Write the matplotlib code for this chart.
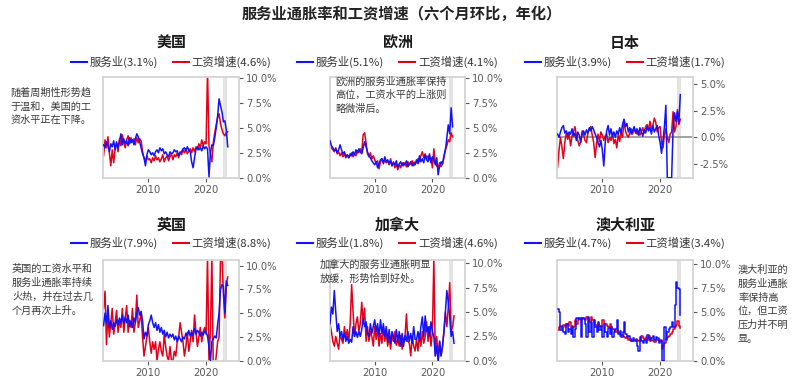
import numpy as np
import matplotlib
matplotlib.use('Agg')
import matplotlib.pyplot as plt

plt.rcParams['font.family'] = ['Noto Sans CJK SC', 'DejaVu Sans']
plt.rcParams['axes.unicode_minus'] = False

# ---------------- data (quarterly, first point 2002.25) ----------------
START = 2002.25
STEP = 0.25

us_services = [3.3, 3.0, 3.6, 3.2,  2.6, 3.4, 3.1, 3.7,  2.8, 3.5, 3.0, 3.6,
               4.4, 3.3, 3.9, 3.4,  3.7, 3.2, 4.0, 3.5,  3.8, 3.3, 3.9, 4.4,
               4.1, 3.6, 3.0, 2.4,  2.0, 1.2, 2.3, 2.8,  2.6, 2.3, 2.5, 2.2,
               2.6, 2.8, 2.5, 3.0,  2.7, 2.9, 2.4, 2.6,  2.3, 2.1, 2.6, 2.4,
               2.5, 2.8, 2.6, 2.7,  2.2, 2.5, 2.6, 2.9,  3.0, 2.7, 3.1, 2.8,
               2.6, 1.6, 1.0, 2.0,  2.9, 3.1, 2.8, 3.0,  2.7, 3.2, 2.9, 3.1,
               2.9, 0.1, 2.5, 3.3,  3.2, 4.0, 5.0, 6.2,  7.9, 7.2, 6.6, 5.6,
               5.7, 4.8, 3.1]
us_wages = [2.2, 3.8, 3.0, 4.1,  2.5, 1.2, 2.8, 1.5,  2.9, 3.6, 2.6, 3.9,
            3.2, 4.3, 3.5, 3.0,  3.8, 4.2, 3.4, 4.0,  3.6, 3.9, 3.3, 4.0,
            3.5, 3.9, 3.7, 2.6,  2.0, 1.6, 2.2, 1.8,  1.9, 1.5, 2.0, 1.7,
            2.2, 1.8, 2.0, 1.6,  1.9, 2.3, 1.6, 2.0,  2.2, 1.7, 2.1, 2.4,
            1.8, 2.3, 2.1, 2.5,  2.0, 2.6, 2.3, 2.8,  2.5, 2.9, 2.4, 2.7,
            2.9, 2.5, 3.0, 2.6,  3.1, 2.8, 3.4, 3.0,  3.8, 3.2, 3.6, 3.4,
            10.8, 3.2, 2.4, 1.6,  3.5, 4.5, 5.3, 6.0,  6.4, 5.4, 4.8, 4.4,
            4.2, 4.5, 4.6]

eu_services = [3.7, 3.2, 3.0, 2.7,  2.9, 2.5, 2.8, 3.3,  2.8, 2.4, 2.6, 2.1,
               2.3, 2.0, 2.4, 2.2,  2.6, 2.3, 2.8, 2.5,  2.9, 2.6, 2.4, 3.0,
               3.6, 3.1, 2.6, 2.2,  2.0, 1.7, 1.5, 1.3,  1.6, 1.0, 1.4, 1.8,
               1.9, 1.5, 2.1, 1.6,  1.8, 1.4, 1.7, 1.2,  1.5, 1.3, 1.7, 1.0,
               1.4, 1.6, 1.2, 1.5,  1.3, 1.7, 1.1, 1.4,  1.6, 1.2, 1.5, 1.3,
               1.8, 1.4, 2.2, 1.6,  1.9, 1.5, 2.3, 1.8,  1.6, 2.4, 1.5, 2.1,
               1.8, 1.3, 2.0, 0.3,  1.2, 1.6, 1.4, 2.2,  2.8, 4.0, 5.3, 4.4,
               7.0, 5.1]
eu_wages = [3.2, 3.0, 2.8, 2.6,  3.0, 2.4, 2.6, 2.2,  2.5, 2.1, 2.4, 2.0,
            2.3, 2.0, 2.2, 2.5,  2.1, 2.4, 2.2, 2.7,  2.5, 2.9, 2.6, 4.3,
            4.5, 3.5, 2.4, 2.1,  2.5, 1.9, 2.2, 1.8,  1.5, 1.7, 0.9, 1.6,
            1.9, 1.4, 1.8, 1.5,  1.7, 1.3, 1.9, 1.2,  1.6, 1.0, 1.4, 0.8,
            1.3, 1.0, 1.5, 1.2,  1.5, 1.1, 1.6, 1.3,  1.4, 1.7, 1.2, 1.6,
            1.5, 1.9, 1.6, 2.2,  2.6, 2.0, 2.4, 1.9,  2.2, 1.8, 2.0, 1.0,
            2.9, 1.5, 1.2, 1.0,  1.5, 1.1, 1.4, 2.0,  2.8, 3.2, 3.8, 3.6,
            4.5, 4.1]

jp_services = [0.3, 0.0, 0.5, 0.9,  1.1, 0.4, 0.6, 0.2,  0.5, 0.3, 0.8, 0.1,
               0.4, -0.3, 0.5, 0.2,  -0.5, 0.3, 0.6, 0.2,  0.7, 0.4, 0.9, 0.6,
               1.0, 0.7, 0.3, 0.0,  -0.5, -0.9, -0.3, -1.2,  -2.7, -0.5, 0.6, 1.1,
               0.2, 0.8, 0.1, 0.5,  0.0, 0.6, 0.3, 0.9,  0.4, 1.2, 1.7, 1.0,
               1.3, 0.5, 0.9, 0.3,  0.6, 1.0, 0.4, 0.8,  0.2, 0.9, 0.5, 0.1,
               0.7, 0.4, 1.0, 0.6,  0.9, 0.3, 1.1, 0.5,  0.8, 1.1, 0.2, -0.5,
               -1.5, -0.3, 1.0, 3.0,  -3.8, -3.8, -3.8, -3.8,  0.8, 2.3, 1.5, 2.4,
               1.3, 4.0]
jp_wages = [-2.8, -1.2, 0.0, -0.9,  -2.0, -0.5, 0.4, -0.2,  0.3, -0.8, 0.1, 0.5,
            1.0, 0.2, -0.3, -0.8,  -0.4, 0.6, 0.2, -0.3,  -0.5, 0.4, 0.8, 1.0,
            0.2, -0.5, -1.9, -0.6,  0.3, -0.4, 0.5, 0.2,  -0.3, 0.1, 0.3, -0.5,
            0.0, -0.3, 0.4, -0.6,  -0.2, -1.0, 0.3, -0.4,  0.5, 0.0, 1.6, 0.6,
            0.2, 0.0, 0.4, 0.8,  0.3, 0.9, 0.5, 0.3,  0.6, 0.2, 0.5, 0.9,
            0.4, 1.0, 1.2, 0.7,  1.5, 0.8, 1.1, 1.8,  1.4, 0.5, 0.9, 1.0,
            -0.5, -1.0, 0.2, 0.8,  0.0, -0.5, 0.3, 0.5,  2.4, 0.5, 1.0, 2.6,
            1.2, 1.7]

uk_services = [3.7, 5.0, 4.0, 5.8,  3.5, 4.2, 3.3, 4.0,  3.6, 4.3, 3.8, 4.5,
               4.0, 4.8, 3.9, 4.6,  4.0, 4.8, 3.6, 4.2,  3.5, 4.5, 4.0, 5.0,
               5.6, 4.8, 5.2, 4.2,  2.3, 3.0, 2.6, 3.8,  4.2, 4.8, 4.0, 3.5,
               4.0, 3.2, 3.8, 3.0,  3.5, 2.8, 3.2, 2.5,  3.0, 2.4, 2.8, 2.5,
               2.8, 2.2, 2.6, 2.0,  2.6, 2.3, 2.0, 2.5,  2.3, 2.9, 2.6, 3.2,
               2.6, 3.0, 2.7, 3.4,  2.8, 3.2, 3.0, 2.6,  3.0, 2.7, 3.1, 3.0,
               2.6, 1.5, 0.0, 2.0,  2.3, 2.6, 2.4, 3.8,  5.0, 7.5, 8.0, 7.8,
               5.0, 8.4, 7.9]
uk_wages = [5.5, 7.3, 1.7, 5.0,  2.5, 4.0, 5.5, 2.8,  4.0, 5.3, 3.0, 4.2,
            3.5, 5.5, 3.0, 4.5,  5.8, 3.0, 4.2, 3.5,  5.5, 3.0, 4.0, 6.9,
            3.5, 4.2, 5.0, 2.5,  0.5, 1.5, 2.5, 3.5,  2.0, 0.8, 2.0, 1.2,
            2.0, 0.0, 1.2, 2.0,  1.0, 0.5, 2.8, 1.5,  0.5, 0.0, 1.5, 0.0,
            0.0, 1.0, 0.5, 2.0,  2.5, 4.0, 3.0, 2.0,  0.5, 1.5, 3.0, 1.0,
            2.0, 3.2, 2.0, 4.8,  3.0, 1.5, 2.5, 3.5,  2.0, 3.0, 3.5, 2.8,
            11.0, 0.0, 3.0, 11.0,  -1.0, -1.0, 0.5, 2.0,  2.5, 11.0, 11.0, 7.0,
            4.5, 8.0, 8.8]

ca_services = [3.8, 5.5, 4.8, 7.2,  5.0, 3.0, 3.8, 2.5,  3.0, 2.2, 2.8, 2.0,
               2.5, 1.8, 2.2, 1.9,  3.5, 2.5, 3.0, 2.4,  3.0, 2.5, 3.2, 4.3,
               3.5, 4.0, 2.8, 2.5,  3.8, 2.8, 3.5, 4.2,  3.0, 3.8, 2.5, 4.2,
               2.8, 3.8, 2.5, 3.5,  2.0, 3.2, 1.8, 3.0,  2.5, 1.8, 3.2, 2.0,
               3.0, 1.5, 2.8, 1.5,  2.6, 2.0, 3.0, 2.0,  2.8, 1.8, 3.5, 2.2,
               2.2, 3.0, 2.0, 3.5,  4.5, 2.5, 4.6, 3.0,  3.5, 2.5, 4.0, 3.0,
               2.5, 0.5, 1.5, 0.0,  2.0, 0.5, 1.5, 3.0,  5.0, 7.2, 6.0, 4.5,
               2.5, 3.0, 1.8]
ca_wages = [3.8, 3.0, 2.0, 1.5,  2.5, 1.8, 1.2, 2.8,  2.2, 1.8, 3.5, 2.4,
            3.2, 2.0, 3.8, 7.8,  5.0, 2.5, 3.8, 4.5,  3.0, 3.8, 6.0, 4.0,
            5.4, 2.0, 3.5, 2.0,  3.0, 2.5, 1.5, 3.5,  2.2, 3.3, 1.5, 2.8,
            1.8, 3.5, 2.0, 3.0,  1.5, 2.5, 1.2, 2.6,  2.0, 3.0, 1.6, 2.2,
            1.5, 2.6, 1.2, 2.2,  2.5, 4.8, 2.0, 1.8,  0.5, 2.5, 1.5, 1.0,
            2.2, 1.0, 2.8, 1.5,  3.0, 1.8, 2.5, 4.0,  2.0, 3.5, 1.5, 3.0,
            10.5, 0.5, 2.5, 0.0,  2.0, 0.5, 1.5, 3.0,  5.0, 3.5, 5.5, 8.0,
            3.0, 3.5, 4.6]

au_services = [5.4, 5.0, 3.2, 3.5,  3.0, 2.8, 3.8, 3.0,  3.3, 2.8, 3.5, 2.5,
               3.3, 4.4, 4.3, 4.4,  2.5, 4.4, 4.3, 3.8,  2.5, 4.5, 3.0, 4.0,
               2.5, 4.2, 3.5, 3.0,  4.0, 3.2, 3.6, 2.5,  3.8, 3.0, 2.5, 3.4,
               2.8, 3.5, 2.5, 3.0,  3.3, 4.2, 2.8, 3.1,  2.5, 3.0, 4.0, 2.8,
               2.5, 2.6, 2.3, 2.0,  2.4, 2.2, 2.0, 1.5,  1.0, 2.5, 2.0, 1.8,
               2.2, 1.8, 2.7, 2.3,  2.0, 2.4, 2.6, 2.2,  2.5, 2.4, 1.8, 2.0,
               0.0, -0.5, 3.5, 2.2,  3.0, 3.3, 3.5, 4.0,  3.5, 5.8, 8.2, 7.5,
               7.4, 4.7]
au_wages = [3.2, 3.5, 3.6, 3.5,  3.7, 3.5, 3.8, 3.6,  4.0, 3.4, 3.6, 3.5,
            4.2, 3.8, 4.2, 4.3,  4.2, 4.4, 4.3, 4.2,  4.5, 4.3, 4.0, 4.5,
            4.2, 4.0, 3.7, 3.5,  3.8, 3.6, 3.5, 4.2,  3.8, 3.8, 3.6, 3.5,
            3.8, 3.5, 3.3, 3.2,  3.0, 3.2, 2.9, 2.6,  2.7, 2.6, 2.5, 2.4,
            2.5, 2.2, 2.3, 2.0,  2.1, 2.0, 2.3, 2.2,  2.0, 2.2, 2.6, 2.4,
            2.3, 2.5, 2.2, 2.6,  2.4, 2.2, 2.0, 1.9,  2.3, 2.2, 2.0, 2.2,
            1.2, 1.5, 1.8, 2.3,  2.5, 2.6, 2.8, 3.0,  3.3, 3.5, 3.7, 4.1,
            3.6, 3.4]

countries = ['美国', '欧洲', '日本', '英国', '加拿大', '澳大利亚']
services_latest = ['3.1%', '5.1%', '3.9%', '7.9%', '1.8%', '4.7%']
wages_latest = ['4.6%', '4.1%', '1.7%', '8.8%', '4.6%', '3.4%']
series = [(us_services, us_wages), (eu_services, eu_wages), (jp_services, jp_wages),
          (uk_services, uk_wages), (ca_services, ca_wages), (au_services, au_wages)]
ylims = [(-0.05, 10.05), (-0.05, 10.05), (-3.85, 5.63),
         (-0.05, 10.55), (-0.05, 10.3), (-0.05, 10.4)]
yticks_std = [0, 2.5, 5.0, 7.5, 10.0]
yticks_jp = [-2.5, 0, 2.5, 5.0]
xticks = [2010, 2020]
band = (2022.85, 2023.65)

notes = [
    ('随着周期性形势趋\n于温和，美国的工\n资水平正在下降。', 10, 88),
    ('欧洲的服务业通胀率保持\n高位，工资水平的上涨则\n略微滞后。', 335, 76),
    ('英国的工资水平和\n服务业通胀率持续\n火热，并在过去几\n个月再次上升。', 12, 264),
    ('加拿大的服务业通胀明显\n放缓，形势恰到好处。', 320, 260),
    ('澳大利亚的\n服务业通胀\n率保持高\n位，但工资\n压力并不明\n显。', 738, 265),
]

BLUE = '#1212ff'
RED = '#e3001b'
GRID = '#d4d4d4'
TICK = '#595959'

W, H = 805, 385
fig = plt.figure(figsize=(W / 100, H / 100), dpi=100)

cols = [(103.3, 239.0), (329.7, 465.3), (557.3, 693.0)]
rows = [(77.3, 178.3), (260.3, 361.3)]

def box(l, t, r, b):
    return [l / W, 1 - b / H, (r - l) / W, (b - t) / H]

for i, name in enumerate(countries):
    r, c = divmod(i, 3)
    l, rr = cols[c]
    t, b = rows[r]
    ax = fig.add_axes(box(l, t, rr, b))
    svc, wag = series[i]
    xs = START + STEP * np.arange(len(svc))
    xw = START + STEP * np.arange(len(wag))
    ds = 'steps-post' if name == '澳大利亚' else 'default'
    ax.axvspan(band[0], band[1], color='#e3e3e3', lw=0, zorder=0)
    if name == '日本':
        ax.axhline(0, color='#9a9a9a', lw=1.3, zorder=1)
    lw_ = ax.plot(xw, wag, color=RED, lw=1.1, zorder=2, drawstyle=ds)[0]
    ls_ = ax.plot(xs, svc, color=BLUE, lw=1.1, zorder=3, drawstyle=ds)[0]
    ax.set_xlim(2002.2, 2025.7)
    ax.set_ylim(*ylims[i])
    yt = yticks_jp if name == '日本' else yticks_std
    ax.set_yticks(yt)
    ax.set_yticklabels([f'{v:.1f}%' for v in yt])
    ax.set_xticks(xticks)
    ax.set_xticklabels([str(x) for x in xticks])
    ax.yaxis.tick_right()
    ax.tick_params(axis='both', colors=TICK, labelsize=7.2, length=3, width=0.8,
                   pad=2, labelcolor=TICK)
    for lab in ax.get_xticklabels() + ax.get_yticklabels():
        lab.set_fontfamily('DejaVu Sans')
    for sp in ax.spines.values():
        sp.set_color(GRID)
        sp.set_linewidth(1.3)
    ty = 1.34 if r == 0 else 1.35
    ly = 1.15 if r == 0 else 1.17
    ax.text(0.5, ty, name, transform=ax.transAxes, ha='center', va='center',
            fontsize=10.8, fontweight='bold', color='#1a1a1a')
    leg = ax.legend([ls_, lw_],
                    [f'服务业({services_latest[i]})', f'工资增速({wages_latest[i]})'],
                    loc='center', bbox_to_anchor=(0.5, ly), ncol=2, frameon=False,
                    fontsize=8.2, handlelength=1.4, handletextpad=0.25,
                    columnspacing=1.3, borderaxespad=0, borderpad=0)
    for txt in leg.get_texts():
        txt.set_color('#333333')
    for h in leg.legend_handles:
        h.set_linewidth(1.5)

for text, x, y in notes:
    fig.text(x / W, 1 - y / H, text, ha='left', va='top', fontsize=7.3,
             color='#3a3a3a', linespacing=1.45)

fig.text(402 / W, 1 - 14 / H, '服务业通胀率和工资增速（六个月环比，年化）',
         ha='center', va='center', fontsize=11, fontweight='bold', color='#222222')

fig.savefig('out.png', dpi=100)
